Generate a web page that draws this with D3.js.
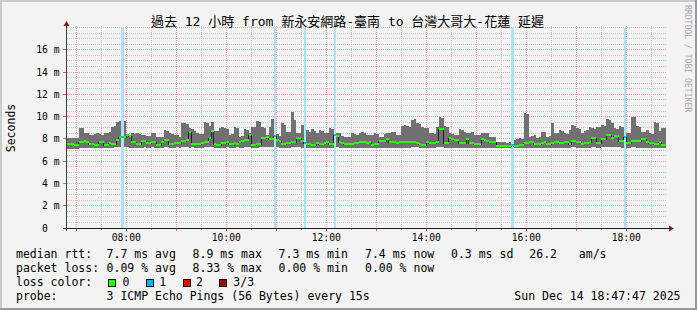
<!DOCTYPE html>
<html><head><meta charset="utf-8">
<script src="https://cdn.jsdelivr.net/npm/d3@7"></script>
<style>
html,body{margin:0;padding:0;background:#f3f3f3;}
svg{display:block;}
text{font-family:"DejaVu Sans Mono","Noto Sans CJK TC",monospace;white-space:pre;}
</style>
</head><body>
<svg id="c" width="697" height="310" xml:space="preserve"></svg>
<script>
// ---------------- data (3-minute bins, 06:48 .. 18:48) ----------------
const pingMax = [
8.11,8.11,8.11,8.11,8.08,9.00,8.94,8.56,8.50,8.35,
8.38,8.44,8.50,8.41,8.35,8.50,8.56,8.61,9.03,9.15,
9.54,9.57,9.69,9.60,8.40,8.38,8.50,8.44,8.50,8.44,
8.35,8.32,8.26,8.26,8.56,8.50,8.20,8.14,8.14,8.79,
8.73,8.50,8.44,8.35,8.32,8.20,9.45,9.39,9.33,8.94,
8.85,8.73,8.50,8.44,8.44,9.51,9.39,9.15,9.51,8.73,
8.73,8.94,9.03,8.94,8.91,8.35,8.44,9.03,8.97,8.20,
8.26,8.85,8.79,8.50,9.09,9.03,9.60,9.54,9.03,8.94,
8.35,9.09,9.75,9.84,8.44,8.26,9.39,9.24,8.64,8.61,
10.44,9.69,8.56,8.50,9.24,9.18,8.79,8.64,8.85,8.73,
8.56,8.79,8.73,8.56,8.56,8.94,8.85,9.69,8.56,8.50,
8.26,8.14,8.20,8.20,8.50,8.44,8.35,8.56,8.64,8.56,
8.35,8.32,8.35,8.50,8.44,8.20,8.20,8.44,8.50,8.56,
8.64,8.61,8.35,8.32,9.15,9.24,9.18,9.09,9.69,9.75,
9.39,9.33,9.03,8.94,8.94,8.50,8.50,8.44,9.09,9.93,
9.87,9.15,9.03,8.50,8.44,8.35,8.32,8.85,8.79,8.64,
8.56,8.50,8.61,8.35,8.32,8.35,8.56,8.50,8.50,8.20,
8.20,8.14,7.75,7.75,7.72,7.75,7.66,7.69,8.35,7.90,
7.96,8.05,7.96,10.29,10.23,8.20,8.26,8.35,8.05,8.14,
8.64,8.61,8.20,8.26,9.39,8.50,8.50,8.79,8.73,8.50,
8.44,8.79,9.24,9.15,8.94,8.85,8.50,8.73,8.79,9.09,
8.94,8.91,9.09,9.03,9.24,9.18,9.75,9.69,9.39,8.94,
8.91,9.15,9.09,9.39,8.56,8.50,9.99,9.93,9.15,9.09,
8.64,8.61,8.79,8.50,8.44,9.54,9.45,8.73,8.94,8.94
];
const pingMedian = [
7.57,7.57,7.54,7.48,7.48,7.69,7.72,7.78,7.75,7.57,
7.54,7.48,7.48,7.69,7.69,7.48,7.48,7.60,7.51,7.51,
7.90,8.20,8.20,8.14,8.32,8.29,7.69,7.69,7.51,7.51,
7.78,7.84,7.63,7.63,7.72,7.72,7.45,7.45,7.69,7.87,
7.90,7.51,7.51,7.66,7.66,7.66,7.78,7.81,7.90,8.59,
7.54,7.54,7.51,7.51,7.60,7.69,7.72,8.11,8.70,7.51,
7.48,7.45,7.60,7.63,7.75,7.51,7.51,7.60,7.57,7.75,
7.78,7.90,7.90,8.38,7.45,7.45,7.51,7.54,8.05,8.05,
8.20,7.96,7.96,8.26,7.90,7.81,7.51,7.54,7.60,7.63,
7.69,7.69,8.11,8.08,7.81,7.66,7.54,7.54,7.45,7.45,
7.66,7.51,7.51,7.60,7.69,7.51,7.51,8.35,8.29,7.75,
7.60,7.54,7.51,7.51,7.51,7.66,7.66,7.75,7.69,7.69,
7.60,7.75,7.45,7.51,7.51,7.81,7.81,7.84,7.96,7.69,
7.69,7.69,7.60,7.69,7.75,7.75,7.75,7.75,7.75,7.75,
7.60,7.51,7.45,7.48,7.75,7.63,7.60,7.66,7.69,8.88,
8.85,7.60,7.60,8.05,8.02,7.90,7.90,7.66,7.66,7.60,
8.02,7.60,7.66,7.51,7.51,7.51,7.96,7.90,7.78,7.75,
7.75,7.69,7.36,7.36,7.36,7.39,7.36,7.36,7.45,7.36,
7.36,7.42,7.45,7.60,7.60,7.69,7.69,7.57,7.51,7.51,
7.66,7.69,7.51,7.51,7.60,7.75,7.72,7.60,7.60,7.69,
7.69,7.51,7.84,7.81,7.75,7.75,7.51,7.60,7.60,7.75,
8.05,8.05,7.66,7.66,7.99,7.96,8.35,8.32,8.05,8.26,
8.23,7.84,7.84,8.20,7.60,7.60,7.84,7.84,7.81,7.81,
7.99,7.96,7.69,7.60,7.60,7.51,7.51,7.69,7.45,7.45
];
const pingMin = [
7.12,7.09,7.12,7.09,7.12,7.15,7.18,7.21,7.21,7.18,
7.21,7.18,7.21,7.18,7.21,7.18,7.18,7.21,7.21,7.24,
7.24,7.24,7.21,7.24,7.24,7.21,7.21,7.21,7.18,7.21,
7.21,7.24,7.21,7.21,7.24,7.21,7.18,7.18,7.21,7.24,
7.24,7.21,7.21,7.21,7.24,7.21,7.24,7.24,7.24,7.21,
7.24,7.21,7.21,7.21,7.21,7.24,7.24,7.24,7.24,7.21,
7.21,7.18,7.21,7.21,7.24,7.18,7.21,7.21,7.24,7.21,
7.21,7.24,7.24,7.24,7.18,7.21,7.21,7.24,7.24,7.24,
7.24,7.24,7.27,7.27,7.24,7.21,7.21,7.21,7.21,7.21,
7.24,7.24,7.24,7.24,7.21,7.21,7.21,7.18,7.18,7.18,
7.21,7.21,7.21,7.21,7.21,7.21,7.21,7.24,7.24,7.21,
7.21,7.18,7.18,7.18,7.21,7.21,7.21,7.21,7.21,7.21,
7.21,7.21,7.18,7.21,7.21,7.21,7.21,7.21,7.21,7.21,
7.21,7.21,7.18,7.21,7.21,7.21,7.21,7.21,7.24,7.24,
7.24,7.21,7.21,7.21,7.21,7.21,7.21,7.21,7.24,7.24,
7.24,7.21,7.21,7.21,7.21,7.21,7.21,7.21,7.21,7.21,
7.21,7.21,7.21,7.18,7.18,7.18,7.21,7.21,7.21,7.21,
7.21,7.18,7.15,7.15,7.15,7.15,7.15,7.15,7.15,7.15,
7.15,7.18,7.18,7.21,7.21,7.21,7.21,7.21,7.18,7.18,
7.21,7.21,7.18,7.18,7.21,7.21,7.21,7.21,7.21,7.21,
7.21,7.21,7.24,7.24,7.21,7.21,7.21,7.21,7.21,7.21,
7.24,7.24,7.21,7.21,7.24,7.24,7.24,7.24,7.24,7.24,
7.24,7.24,7.21,7.24,7.21,7.21,7.24,7.24,7.21,7.21,
7.21,7.21,7.21,7.21,7.21,7.21,7.21,7.21,7.18,7.18
];
// bins with packet loss and loss percentage
const lossBins = [22, 83, 95, 107, 178, 223];
const lossPct  = [2.78, 2.78, 8.33, 2.78, 2.78, 2.78];

const yTickValues = [0, 2, 4, 6, 8, 10, 12, 14, 16];
const xTickLabels = ["08:00", "10:00", "12:00", "14:00", "16:00", "18:00"];
const lossClasses = ["0", "1", "2", "3/3"];
const lossColors  = ["#26ff00", "#00b8ff", "#ff0000", "#a00000"];

const titleText = "過去 12 小時 from 新永安網路-臺南 to 台灣大哥大-花蓮 延遲";
const rttStats  = ["7.7 ms avg", "8.9 ms max", "7.3 ms min", "7.4 ms now", "0.3 ms sd", "26.2", "am/s"];
const lossStats = ["0.09 % avg", "8.33 % max", "0.00 % min", "0.00 % now"];
const probeText = "3 ICMP Echo Pings (56 Bytes) every 15s";
const dateText  = "Sun Dec 14 18:47:47 2025";

// ---------------- layout ----------------
const W = 697, H = 310;
const t0 = new Date(Date.UTC(2025, 11, 14, 6, 47, 47));
const t1 = new Date(Date.UTC(2025, 11, 14, 18, 47, 47));
const binStart = Date.UTC(2025, 11, 14, 6, 48, 0);
const binStep = 180000;
const plotL = 66.1, plotR = 666.1, plotT = 27.5, plotB = 228;

const x = d3.scaleUtc().domain([t0, t1]).range([plotL, plotR]);
const y = d3.scaleLinear().domain([0, 18]).range([plotB, plotT]);
const bt = i => new Date(binStart + i * binStep);
const sx = d => Math.floor(x(d)) + 0.5;
const sy = v => Math.floor(y(v)) + 0.5;

const svg = d3.select("#c");
svg.append("rect").attr("width", W).attr("height", H).attr("fill", "#f3f3f3");
// 3D frame
svg.append("rect").attr("x", 0).attr("y", 0).attr("width", W).attr("height", 2).attr("fill", "#cbcbcb");
svg.append("rect").attr("x", 0).attr("y", 0).attr("width", 2).attr("height", H).attr("fill", "#cbcbcb");
svg.append("rect").attr("x", 0).attr("y", H - 2).attr("width", W).attr("height", 2).attr("fill", "#999999");
svg.append("rect").attr("x", W - 2).attr("y", 0).attr("width", 2).attr("height", H).attr("fill", "#999999");

const minorCol = "#c4c4c4", majorCol = "#f2a0a0";
const grid = svg.append("g").attr("stroke-dasharray", "1,1").attr("shape-rendering", "crispEdges");

// vertical grid
const halfHours = d3.utcMinute.every(30).range(t0, t1);
halfHours.forEach(d => {
  const major = d.getUTCMinutes() === 0;
  grid.append("line").attr("x1", sx(d)).attr("x2", sx(d)).attr("y1", 26).attr("y2", plotB)
    .attr("stroke", major ? majorCol : minorCol);
});
// horizontal grid
d3.range(1, 37).map(k => k * 0.5).forEach(v => {
  const major = (v % 2 === 0) && v < 18;
  grid.append("line").attr("x1", 66.5).attr("x2", 667).attr("y1", sy(v)).attr("y2", sy(v))
    .attr("stroke", major ? majorCol : minorCol);
});

// data clip
svg.append("clipPath").attr("id", "pc").append("rect")
  .attr("x", plotL).attr("y", 0).attr("width", plotR - plotL).attr("height", plotB);
const data = svg.append("g").attr("clip-path", "url(#pc)");

const bins = pingMax.map((mx, i) => ({ i, mx, md: pingMedian[i], mn: pingMin[i] }));
const lossOf = i => { const k = lossBins.indexOf(i); return k < 0 ? 0 : lossPct[k]; };
const lossClass = p => p <= 0 ? 0 : (p <= 100 / 3 + 0.01 ? 1 : (p <= 200 / 3 + 0.01 ? 2 : 3));

// smoke
data.append("g").attr("shape-rendering", "crispEdges").selectAll("rect").data(bins).join("rect")
  .attr("x", d => x(bt(d.i))).attr("width", d => x(bt(d.i + 1)) - x(bt(d.i)))
  .attr("y", d => y(d.mx)).attr("height", d => y(d.mn) - y(d.mx))
  .attr("fill", "#717171");

// loss backgrounds
data.append("g").attr("shape-rendering", "crispEdges").selectAll("rect").data(lossBins).join("rect")
  .attr("x", d => x(bt(d))).attr("width", d => x(bt(d + 1)) - x(bt(d)))
  .attr("y", plotT).attr("height", plotB - plotT)
  .attr("fill", "#aae2f8");

// median line
const pts = bins.map(d => [bt(d.i), d.md]).concat([[bt(bins.length), pingMedian[pingMedian.length - 1]]]);
data.append("path").attr("d", d3.line().x(d => x(d[0])).y(d => Math.round(y(d[1])) + 0.5).curve(d3.curveStepAfter)(pts))
  .attr("fill", "none").attr("stroke", "#202020").attr("stroke-width", 1).attr("shape-rendering", "crispEdges");

// median bars coloured by loss
const sw = 18 / 200;
data.append("g").attr("shape-rendering", "crispEdges").selectAll("rect").data(bins).join("rect")
  .attr("x", d => x(bt(d.i))).attr("width", d => x(bt(d.i + 1)) - x(bt(d.i)))
  .attr("y", d => y(d.md + sw)).attr("height", d => y(d.md - sw) - y(d.md + sw))
  .attr("fill", d => lossColors[lossClass(lossOf(d.i))]);

// ticks
const tk = svg.append("g").attr("shape-rendering", "crispEdges");
halfHours.forEach(d => {
  const major = d.getUTCMinutes() === 0;
  tk.append("line").attr("x1", sx(d)).attr("x2", sx(d)).attr("y1", 228).attr("y2", major ? 231 : 230)
    .attr("stroke", major ? "#e06060" : "#a0a0a0");
});
yTickValues.filter(v => v > 0).forEach(v => {
  tk.append("line").attr("x1", 63).attr("x2", 66).attr("y1", sy(v)).attr("y2", sy(v)).attr("stroke", "#e06060");
});

// axes
svg.append("line").attr("x1", 63).attr("x2", 669).attr("y1", 228.5).attr("y2", 228.5)
  .attr("stroke", "#202020").attr("shape-rendering", "crispEdges");
svg.append("line").attr("x1", 66.5).attr("x2", 66.5).attr("y1", 231).attr("y2", 25)
  .attr("stroke", "#404040").attr("shape-rendering", "crispEdges");
svg.append("path").attr("d", "M669,225.5L674,228.5L669,231.5Z").attr("fill", "#8b1c1c");
svg.append("path").attr("d", "M63.5,26L66.5,21L69.5,26Z").attr("fill", "#8b1c1c");

// y labels
svg.append("g").selectAll("text").data(yTickValues).join("text")
  .attr("x", 59.5).attr("y", v => sy(v) + 3.5).attr("text-anchor", "end")
  .attr("font-size", "9.7px").attr("fill", "#000")
  .text(v => v === 0 ? "0  " : v + " m");

// x labels
const parseHM = s => { const [h, m] = s.split(":").map(Number); return new Date(Date.UTC(2025, 11, 14, h, m)); };
svg.append("g").selectAll("text").data(xTickLabels).join("text")
  .attr("x", s => x(parseHM(s))).attr("y", 241).attr("text-anchor", "middle")
  .attr("font-size", "9.7px").attr("fill", "#000").text(s => s);

// title
svg.append("text").attr("x", 347.5).attr("y", 26).attr("text-anchor", "middle")
  .attr("font-size", "13px").attr("fill", "#000").text(titleText);

// y axis title
svg.append("text").attr("transform", "translate(14.5,128) rotate(-90)").attr("text-anchor", "middle")
  .attr("font-size", "11.5px").attr("fill", "#000").text("Seconds");

// watermark
svg.append("text").attr("transform", "translate(685,5) rotate(90)").attr("text-anchor", "start")
  .attr("font-size", "8.1px").attr("fill", "#a8a8a8").text("RRDTOOL / TOBI OETIKER");

// legend
const lg = svg.append("g").attr("font-size", "11.5px").attr("fill", "#000");
const row = (label, by) => lg.append("text").attr("x", 16).attr("y", by).text(label);
row("median rtt:", 258);
row("packet loss:", 272.3);
row("loss color:", 286.3);
row("probe:", 299.7);
const rttX = [106.6, 192.6, 278.6, 365, 451, 529.3, 578.8];
rttStats.forEach((s, k) => lg.append("text").attr("x", rttX[k]).attr("y", 258).text(s));
lossStats.forEach((s, k) => lg.append("text").attr("x", rttX[k]).attr("y", 272.3).text(s));
lg.append("text").attr("x", 106.6).attr("y", 299.7).text(probeText);
lg.append("text").attr("x", 680.5).attr("y", 299.7).attr("text-anchor", "end").text(dateText);
const boxX = [108.5, 146.5, 183, 219.5];
const labX = [122.6, 159.3, 196, 233.3];
lossClasses.forEach((c, k) => {
  lg.append("rect").attr("x", boxX[k]).attr("y", 279.5).attr("width", 7).attr("height", 7)
    .attr("fill", lossColors[k]).attr("stroke", "#000").attr("stroke-width", 1).attr("shape-rendering", "crispEdges");
  lg.append("text").attr("x", labX[k]).attr("y", 286.3).text(c);
});
</script>
</body></html>
